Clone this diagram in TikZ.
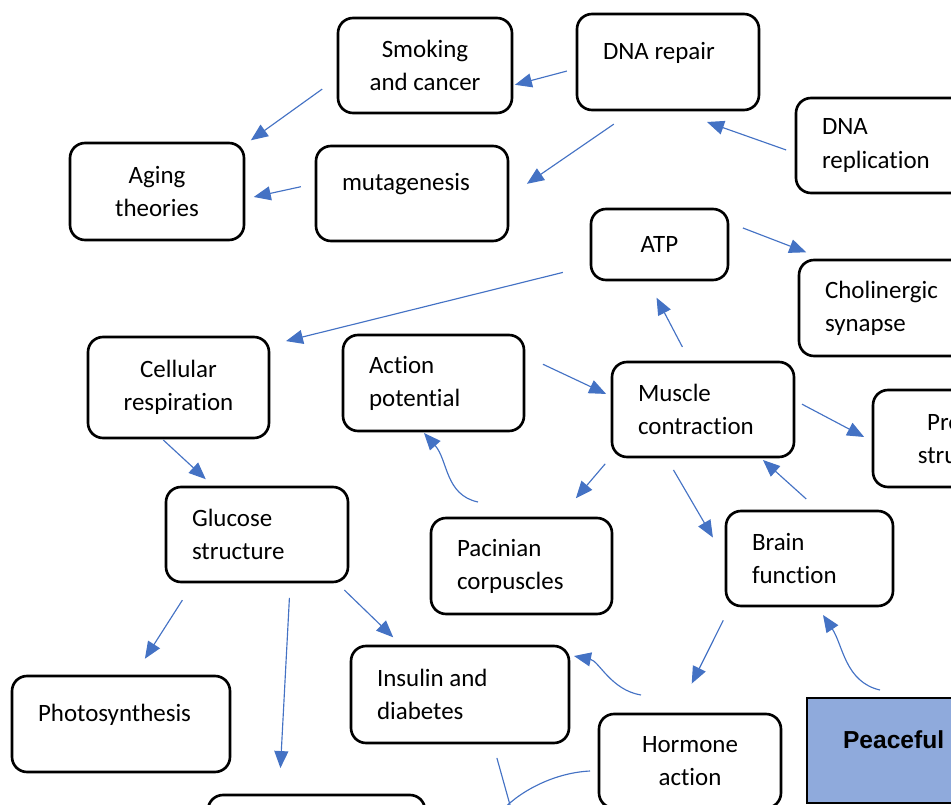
\documentclass[tikz,border=0pt]{standalone}
\usepackage{fontspec}
\setmainfont{Carlito}[Ligatures=NoCommon]
\newfontfamily\headfont{Liberation Sans}
\usepackage{xcolor}
\usetikzlibrary{arrows.meta,calc}
\definecolor{arrowblue}{HTML}{4472C4}
\definecolor{peacefill}{HTML}{8FAADC}

\begin{document}
\begin{tikzpicture}[x=0.02cm,y=-0.02cm,
  box/.style={draw, line width=1.5pt, rounded corners=0.3cm, inner sep=0pt, outer sep=0pt,
    font=\fontsize{14.2}{18.8}\selectfont},
  cbox/.style={box, align=center},
  lbox/.style={box, align=flush left, inner xsep=0.52cm},
  raised/.style={text depth=0.45cm},
  link/.style={draw=arrowblue, line width=0.65pt, -{Triangle[length=0.34cm,width=0.28cm]}}]
\useasboundingbox (0,0) rectangle (951,805);
\clip (0,0) rectangle (951,805);

% top row
\node[cbox, minimum width=3.48cm, minimum height=1.9cm] (smoking) at (425,65.5) {Smoking\\and cancer};
\node[lbox, text width=2.6cm, minimum height=1.92cm, raised] (dnarep) at (668,62) {DNA repair};
\node[lbox, text width=2.6cm, minimum height=1.9cm] (dnarepl) at (887,145.5) {DNA\\replication};
\node[cbox, minimum width=3.48cm, minimum height=1.94cm] (aging) at (157,191.5) {Aging\\theories};
\node[lbox, text width=2.8cm, minimum height=1.9cm, raised] (mutagen) at (412,193.5) {mutagenesis};
\node[cbox, minimum width=2.74cm, minimum height=1.42cm] (atp) at (659.5,244.5) {ATP};
\node[lbox, text width=2.6cm, minimum height=1.92cm] (cholin) at (890,308) {Cholinergic\\synapse};

% middle
\node[cbox, minimum width=3.62cm, minimum height=2.02cm] (cellresp) at (178.5,387.5) {Cellular\\respiration};
\node[lbox, text width=2.58cm, minimum height=1.92cm] (actpot) at (433.5,383) {Action\\potential};
\node[lbox, text width=2.6cm, minimum height=1.9cm] (muscle) at (703,409.5) {Muscle\\contraction};
\node[cbox, minimum width=3.64cm, minimum height=1.94cm] (protein) at (964,438.5) {Protein\\structure};
\node[lbox, text width=2.6cm, minimum height=1.9cm] (glucose) at (257,534.5) {Glucose\\structure};
\node[lbox, text width=2.58cm, minimum height=1.92cm] (pacin) at (521.5,566) {Pacinian\\corpuscles};
\node[lbox, text width=2.3cm, minimum height=1.9cm] (brain) at (809.5,558.5) {Brain\\function};

% bottom
\node[lbox, text width=3.32cm, minimum height=1.92cm, raised] (photo) at (121,724) {Photosynthesis};
\node[lbox, text width=3.32cm, minimum height=1.94cm] (insulin) at (460,694.5) {Insulin and\\diabetes};
\node[cbox, minimum width=3.64cm, minimum height=1.88cm] (hormone) at (690,761) {Hormone\\action};
\node[box, rounded corners=0pt, fill=peacefill, align=flush left, inner xsep=0.72cm, text width=2.56cm,
  minimum height=2.1cm, raised, font=\headfont\bfseries\fontsize{14}{17}\selectfont] (peaceful) at (907,750.5) {Peaceful};
\node[box, minimum width=4.34cm, minimum height=1.92cm] (lowbox) at (316.5,843) {};

\coordinate (offA) at (517,830);
\coordinate (offB) at (490,825);

\draw[link, shorten <=0.21cm, shorten >=0.06cm] (dnarep.184.8) -- (smoking.347.6);
\draw[link, shorten <=0.5cm, shorten >=0.46cm] (dnarep.235.2) -- (mutagen.358.6);
\draw[link, shorten <=0.21cm, shorten >=0.72cm] (dnarepl.185) -- (dnarep.276.1);
\draw[link, shorten <=0.39cm, shorten >=0.17cm] (smoking.188) -- (aging.28.9);
\draw[link, shorten <=0.31cm, shorten >=0.2cm] (mutagen.174.4) -- (aging.355.8);
\draw[link, shorten <=0.32cm, shorten >=0.43cm] (atp.18.9) -- (cholin.143);
\draw[link, shorten <=0.58cm, shorten >=0.35cm] (atp.197.5) -- (cellresp.25.1);
\draw[link, shorten <=0.34cm, shorten >=0.4cm] (muscle.105.6) -- (atp.251.8);
\draw[link, shorten <=0.42cm, shorten >=0.13cm] (actpot.17.4) -- (muscle.172.8);
\draw[link, shorten <=0.18cm, shorten >=0.2cm] (muscle.6.1) -- (protein.182.1);
\draw[link, shorten <=0.21cm, shorten >=0.52cm] (muscle.207.5) -- (pacin.52);
\draw[link, shorten <=0.3cm, shorten >=0.52cm] (muscle.232.5) -- (brain.181.5);
\draw[link, shorten <=0.36cm, shorten >=0.09cm] (brain.78.5) -- (muscle.320);
\draw[link, shorten <=0.06cm, shorten >=0.23cm] (cellresp.251.8) -- (glucose.132.5);
\draw[link, shorten <=0.43cm, shorten >=0.41cm] (glucose.217.9) -- (photo.75.1);
\draw[link, shorten <=0.32cm, shorten >=0.54cm] (glucose.305.5) -- (lowbox.128.4);
\draw[link, shorten <=0.23cm, shorten >=0.25cm] (glucose.329.3) -- (insulin.140.6);
\draw[link, shorten <=0.32cm, shorten >=0.68cm] (brain.211.6) -- (hormone.106.2);
\draw[link, shorten <=0.31cm] (insulin.304.2) -- (offA);

% curved links
\draw[link] ($(pacin.north)+(-43.5,-16)$) .. controls +(-33,-7) and +(24,27) .. ($(actpot.south)+(-9.5,2)$);
\draw[link] ($(hormone.north)+(-49,-19)$) .. controls +(-30,-5) and +(25,5) .. ($(insulin.north east)+(5,10)$);
\draw[link] ($(peaceful.north west)+(73,-8)$) .. controls +(-35,-8) and +(20,30) .. ($(brain.south)+(13.5,9)$);
\draw[link] ($(hormone.west)+(-9,10)$) .. controls +(-40,2) and +(25,-30) .. (offB);
\end{tikzpicture}
\end{document}
